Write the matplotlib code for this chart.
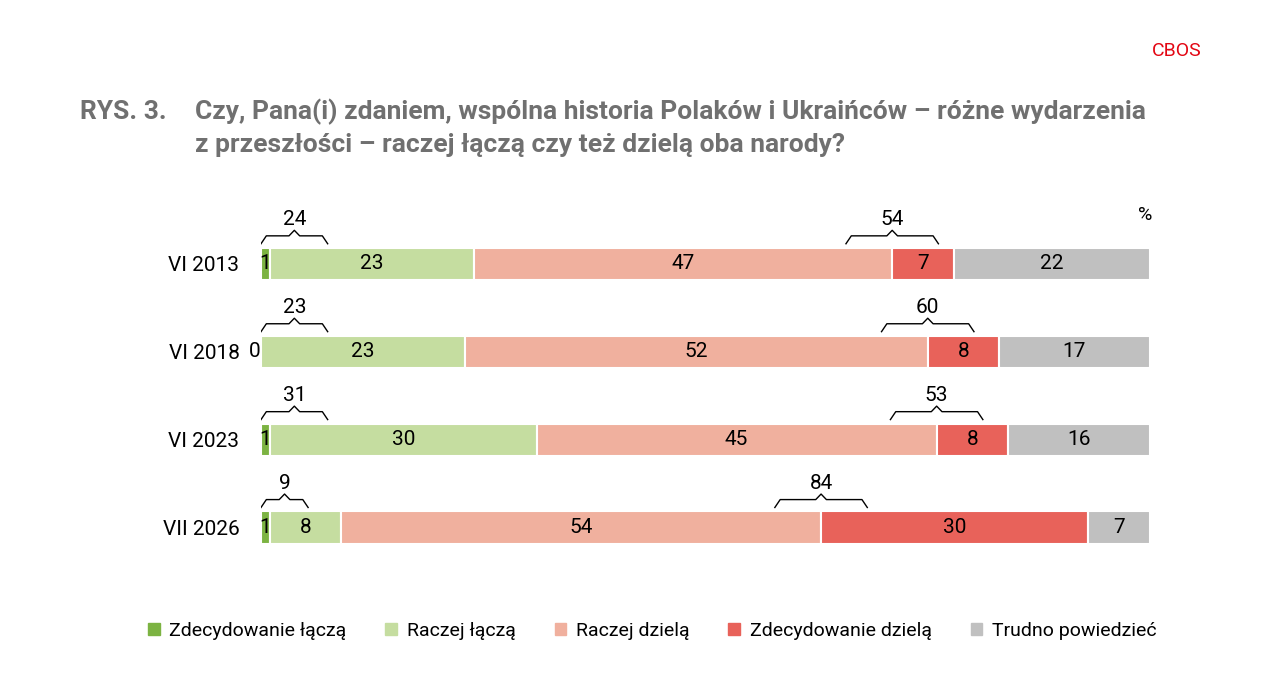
import matplotlib.pyplot as plt
import numpy as np
from matplotlib.patches import Patch

plt.rcParams['font.family'] = ['Roboto', 'DejaVu Sans']

years = ["VI 2013", "VI 2018", "VI 2023", "VII 2026"]
labels = ["Zdecydowanie łączą", "Raczej łączą", "Raczej dzielą", "Zdecydowanie dzielą", "Trudno powiedzieć"]
values = np.array([[1, 23, 47, 7, 22],
                   [0, 23, 52, 8, 17],
                   [1, 30, 45, 8, 16],
                   [1, 8, 54, 30, 7]])
unite_sum = [24, 23, 31, 9]
divide_sum = [54, 60, 53, 84]
colors = ["#7cb342", "#c5dda0", "#f0b09e", "#e8625a", "#c0c0c0"]


def brace(ax, x0, x1, y, h=0.09):
    # curly-ish bracket opening downward
    xm = (x0 + x1) / 2
    xs = [x0, x0 + 0.6, xm - 0.6, xm, xm + 0.6, x1 - 0.6, x1]
    ys = [y + h, y, y, y - h * 0.7, y, y, y + h]
    ax.plot(xs, ys, color="black", lw=1, solid_joinstyle="round")


fig = plt.figure(figsize=(12.84, 7), dpi=100)
ax = fig.add_axes([261 / 1284, 138 / 700, 889 / 1284, 360 / 700])
ypos = np.arange(len(years))
left = np.zeros(len(years))
for k in range(len(labels)):
    ax.barh(ypos, values[:, k], left=left, height=0.37, color=colors[k],
            edgecolor="white", linewidth=1.5)
    for i in range(len(years)):
        v = values[:, k][i]
        if k == 0:
            ax.text(-0.1 if v == 0 else v / 2, ypos[i], str(v), ha="right" if v == 0 else "center",
                    va="center", fontsize=15)
        else:
            ax.text(left[i] + v / 2, ypos[i], str(v), ha="center", va="center", fontsize=15)
    left += values[:, k]

for i in range(len(years)):
    w = 5.3 if i == 3 else 7.5
    brace(ax, 0, w, ypos[i] - 0.32)
    ax.text(w / 2, ypos[i] - 0.40, str(unite_sum[i]), ha="center", va="bottom", fontsize=15)
    b = values[i, 0] + values[i, 1] + values[i, 2]
    brace(ax, b - 5.2, b + 5.2, ypos[i] - 0.32)
    ax.text(b, ypos[i] - 0.40, str(divide_sum[i]), ha="center", va="bottom", fontsize=15)

ax.text(99.5, -0.45, "%", ha="center", va="bottom", fontsize=14)
ax.set_xlim(0, 100)
ax.set_ylim(3.39, -0.705)
ax.set_yticks(ypos)
ax.set_yticklabels(years, fontsize=15)
ax.tick_params(left=False, bottom=False, labelbottom=False, pad=12)
for s in ax.spines.values():
    s.set_visible(False)

fig.text(1202 / 1284, 1 - 51 / 700, "CBOS", color="#e30613", fontsize=14, ha="right", va="center")
fig.text(80 / 1284, 1 - 112 / 700, "RYS. 3.", color="#707070", fontsize=19, fontweight="bold", va="center")
fig.text(195 / 1284, 1 - 112 / 700, "Czy, Pana(i) zdaniem, wspólna historia Polaków i Ukraińców – różne wydarzenia",
         color="#707070", fontsize=19, fontweight="bold", va="center")
fig.text(195 / 1284, 1 - 145 / 700, "z przeszłości – raczej łączą czy też dzielą oba narody?",
         color="#707070", fontsize=19, fontweight="bold", va="center")

handles = [Patch(color=c) for c in colors]
fig.legend(handles, labels, loc="center", bbox_to_anchor=(0.508, 1 - 631 / 700), ncol=5, frameon=False,
           fontsize=14, handlelength=0.6, handleheight=0.6, handletextpad=0.5, columnspacing=2.0)

plt.savefig("out.png")
